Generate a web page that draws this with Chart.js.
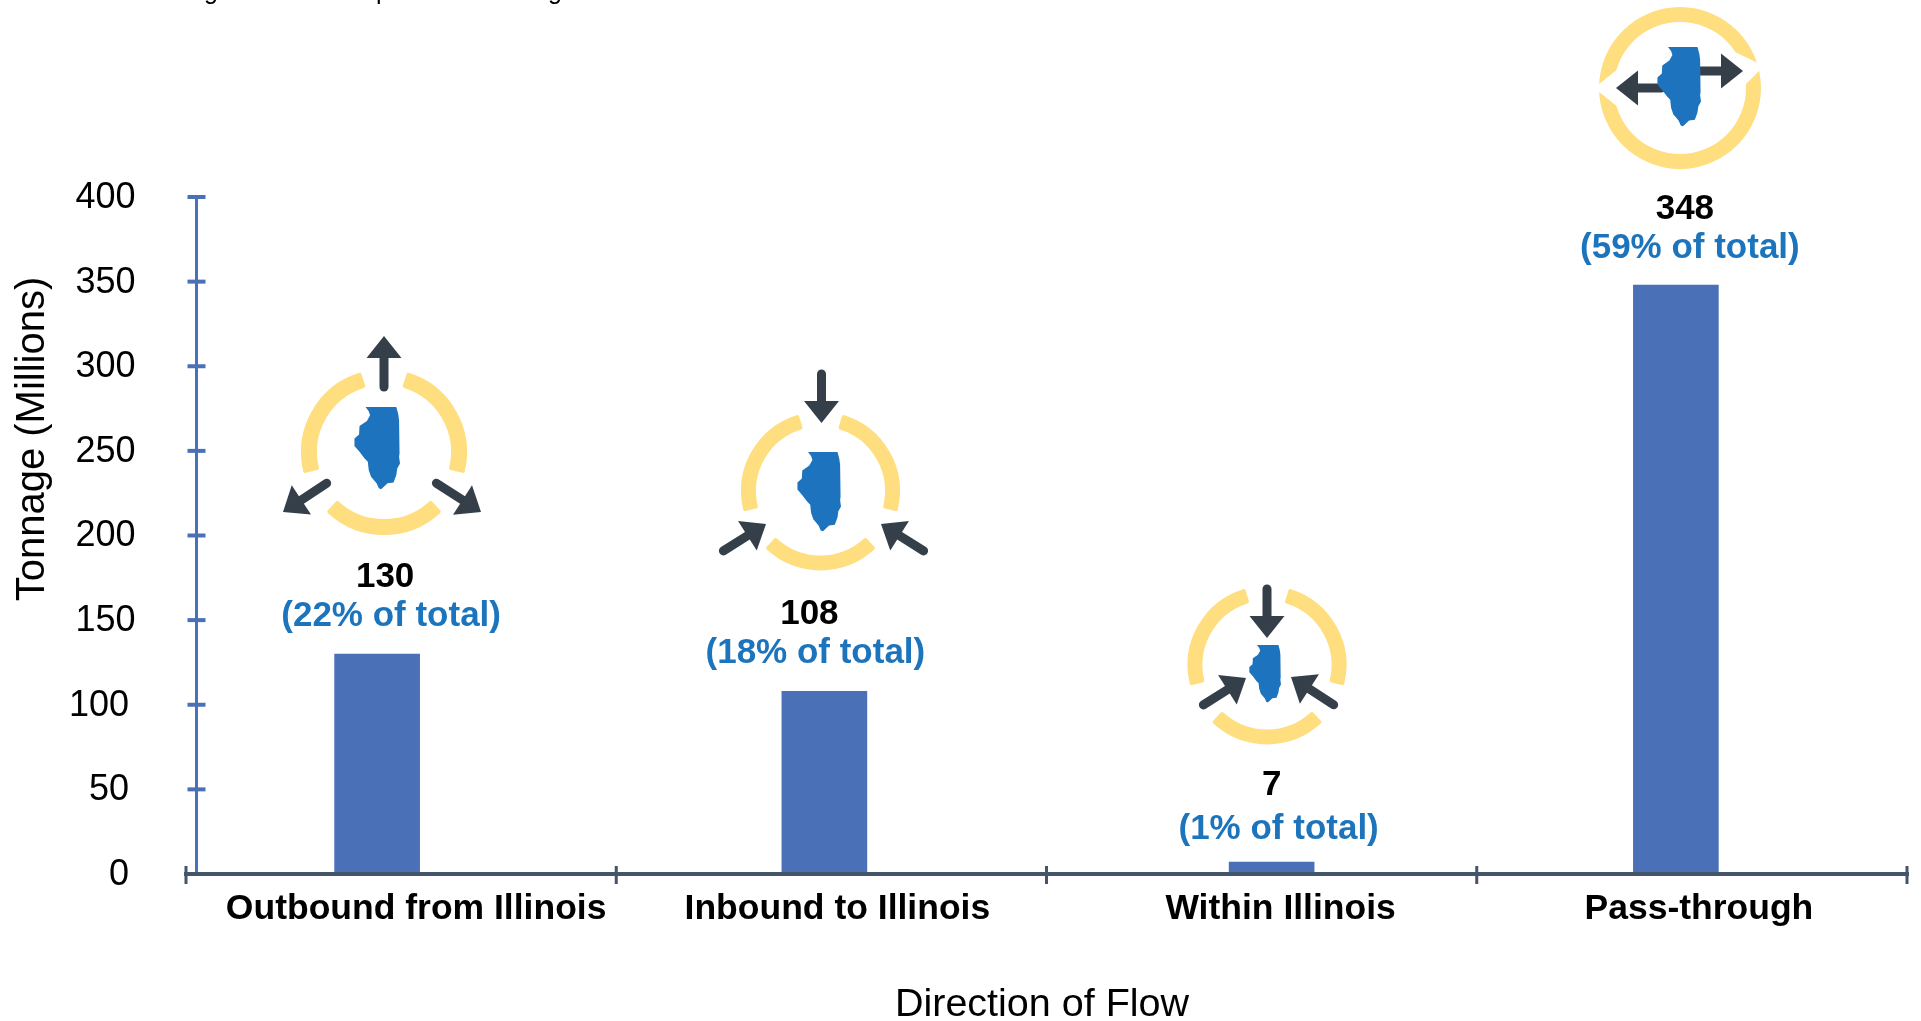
<!DOCTYPE html>
<html lang="en">
<head>
<meta charset="UTF-8">
<title>Tonnage by Direction of Flow</title>
<script src="https://cdn.jsdelivr.net/npm/chart.js"></script>
<style>
    body { margin: 0; background: #fff; }
    canvas { display: block; }
</style>
</head>
<body>
<canvas id="flowChart" width="1921" height="1021"></canvas>
<script>
// chart data
const categories = ['Outbound from Illinois', 'Inbound to Illinois', 'Within Illinois', 'Pass-through'];
const tonnage = [130, 108, 7, 348];
const shareLabels = ['(22% of total)', '(18% of total)', '(1% of total)', '(59% of total)'];
const yTicks = [0, 50, 100, 150, 200, 250, 300, 350, 400];

const FONT = '"Liberation Sans", Arial, sans-serif';
const BAR_COLOR = '#4a70b7', X_AXIS_COLOR = '#44546a', TEXT_BLUE = '#1c75bc';
const RING_COLOR = '#ffde80', ARROW_COLOR = '#353f4a', STATE_COLOR = '#1e73be';

// the bars and labels in the original sit off the category centres
const barShift = [-24, -7, 10, -16];
const categoryLabelShift = [15, 6, 19, 7];
const valueLabelShift = [8, -15, 0, 9];
const shareLabelShift = [14, -9, 7, 14];
const valueLift = [77, 77, 77, 76];
const shareLift = [38, 38, 33, 37];

// Illinois outline, unit box 0..1
const illinois = [[.25,0],[.92,0],[.96,.08],[.98,.16],[.99,.56],[.98,.60],[1,.68],[.94,.74],[.92,.82],[.86,.91],[.73,.92],[.59,.99],[.54,.98],[.49,.92],[.37,.84],[.32,.76],[.30,.66],[.23,.62],[.12,.54],[.01,.47],[.01,.38],[.11,.33],[.12,.23],[.28,.17],[.35,.10],[.32,.05]];

const threeGaps = [[-74, 15], [46, 134], [165, 254]];
// ring centre/radius, arrows as [tail, tip], state box as [x, y, w, h]
const icons = [
    { cx: 384, cy: 452, r: 75, lw: 16, arcs: threeGaps, state: [354, 407, 46, 83],
      arrows: [[[384, 391], [384, 336]], [[330, 481], [283, 512]], [[433, 481], [481, 512]]] },
    { cx: 820.5, cy: 491, r: 72, lw: 15, arcs: threeGaps, state: [797, 452, 44, 80],
      arrows: [[[821.5, 370], [821.5, 423]], [[720, 553], [766, 524]], [[927, 553], [881, 524]]] },
    { cx: 1267, cy: 665, r: 72, lw: 15, arcs: threeGaps, state: [1249, 645, 32, 58],
      arrows: [[[1267, 585], [1267, 638]], [[1200, 707], [1246, 678]], [[1337, 707], [1291, 677]]] },
    { cx: 1680, cy: 88, r: 73.5, lw: 15, arcs: [[0, 360]], state: [1657, 47, 44, 80],
      cuts: [[[1594, 88], [1618, 69], [1618, 107]], [[1764, 66], [1735, 52], [1745, 85]]],
      arrows: [[[1665, 88], [1616, 88]], [[1695, 71], [1743, 71]]] }
];

function drawRing(ctx, icon) {
    ctx.fillStyle = RING_COLOR;
    ctx.strokeStyle = RING_COLOR;
    ctx.lineWidth = 4;
    ctx.lineJoin = 'round';
    icon.arcs.forEach(([a, b]) => {
        const full = b - a === 360;
        const pad = full ? 0 : 1.5;
        const start = (a + pad) * Math.PI / 180, end = (b - pad) * Math.PI / 180;
        ctx.beginPath();
        ctx.arc(icon.cx, icon.cy, icon.r + icon.lw / 2 - (full ? 0 : 2), start, end);
        if (full) ctx.moveTo(icon.cx + icon.r - icon.lw / 2, icon.cy);
        ctx.arc(icon.cx, icon.cy, icon.r - icon.lw / 2 + (full ? 0 : 2), end, start, true);
        ctx.closePath();
        if (full) {
            ctx.fill('evenodd');
        } else {
            ctx.fill();
            ctx.stroke();
        }
    });
    // white notches where the pass-through arrows leave the ring
    (icon.cuts || []).forEach(pts => {
        ctx.fillStyle = '#fff';
        ctx.beginPath();
        pts.forEach((p, i) => i ? ctx.lineTo(p[0], p[1]) : ctx.moveTo(p[0], p[1]));
        ctx.closePath();
        ctx.fill();
    });
}

function drawArrow(ctx, tail, tip) {
    const headLen = 22, headHalf = 17.5;
    const len = Math.hypot(tip[0] - tail[0], tip[1] - tail[1]);
    ctx.save();
    ctx.translate(tip[0], tip[1]);
    ctx.rotate(Math.atan2(tip[1] - tail[1], tip[0] - tail[0]));
    ctx.strokeStyle = ARROW_COLOR;
    ctx.fillStyle = ARROW_COLOR;
    ctx.lineWidth = 9;
    ctx.lineCap = 'round';
    ctx.beginPath();
    ctx.moveTo(-headLen, 0);
    ctx.lineTo(-len + 4, 0);
    ctx.stroke();
    ctx.beginPath();
    ctx.moveTo(0, 0);
    ctx.lineTo(-headLen, -headHalf);
    ctx.lineTo(-headLen, headHalf);
    ctx.closePath();
    ctx.fill();
    ctx.restore();
}

function drawState(ctx, box) {
    ctx.fillStyle = STATE_COLOR;
    ctx.beginPath();
    illinois.forEach((p, i) => {
        const x = box[0] + p[0] * box[2], y = box[1] + p[1] * box[3];
        i ? ctx.lineTo(x, y) : ctx.moveTo(x, y);
    });
    ctx.closePath();
    ctx.fill();
}

// moves the bars off the category centres
const shiftBars = {
    id: 'shiftBars',
    afterDatasetsUpdate(chart) {
        chart.getDatasetMeta(0).data.forEach((bar, i) => { bar.x += barShift[i]; });
    }
};

// axes, icons and all the text around the bars
const decorations = {
    id: 'decorations',
    afterDraw(chart) {
        const { ctx, scales: { x, y }, chartArea } = chart;
        const axisX = chartArea.left + 10.5;
        ctx.save();

        // y axis runs a little inside the left end of the x axis
        ctx.strokeStyle = BAR_COLOR;
        ctx.lineWidth = 3;
        ctx.beginPath();
        ctx.moveTo(axisX, y.getPixelForValue(400));
        ctx.lineTo(axisX, y.getPixelForValue(0));
        ctx.stroke();
        ctx.lineWidth = 4;
        yTicks.forEach(v => {
            const py = y.getPixelForValue(v);
            ctx.beginPath();
            ctx.moveTo(axisX - 9, py);
            ctx.lineTo(axisX + 9, py);
            ctx.stroke();
        });

        // x axis over the bars
        ctx.strokeStyle = X_AXIS_COLOR;
        const py0 = y.getPixelForValue(0);
        ctx.beginPath();
        ctx.moveTo(chartArea.left - 2, py0);
        ctx.lineTo(chartArea.right + 2, py0);
        ctx.stroke();
        ctx.lineWidth = 3;
        for (let i = 0; i <= categories.length; i++) {
            const px = chartArea.left + i * chartArea.width / categories.length;
            ctx.beginPath();
            ctx.moveTo(px, py0 - 8);
            ctx.lineTo(px, py0 + 10);
            ctx.stroke();
        }

        // y tick labels: the lower three stand slightly further left
        ctx.fillStyle = '#000';
        ctx.textBaseline = 'middle';
        ctx.textAlign = 'right';
        ctx.font = '36px ' + FONT;
        yTicks.forEach(v => ctx.fillText(String(v), v <= 100 ? 129 : 135.5, y.getPixelForValue(v) + 1));

        // axis titles
        ctx.textAlign = 'center';
        ctx.font = '39.5px ' + FONT;
        ctx.fillText('Direction of Flow', 1042, 1005);
        ctx.save();
        ctx.translate(33, 439);
        ctx.rotate(-Math.PI / 2);
        ctx.font = '40px ' + FONT;
        ctx.fillText('Tonnage (Millions)', 0, 0);
        ctx.restore();

        // category labels
        ctx.font = 'bold 35.5px ' + FONT;
        categories.forEach((c, i) => ctx.fillText(c, x.getPixelForValue(i) + categoryLabelShift[i], 909));

        // value and share labels above each bar
        chart.getDatasetMeta(0).data.forEach((bar, i) => {
            ctx.font = 'bold 35px ' + FONT;
            ctx.fillStyle = '#000';
            ctx.fillText(String(tonnage[i]), bar.x + valueLabelShift[i], bar.y - valueLift[i]);
            ctx.fillStyle = TEXT_BLUE;
            ctx.fillText(shareLabels[i], bar.x + shareLabelShift[i], bar.y - shareLift[i]);
        });

        icons.forEach(icon => {
            drawRing(ctx, icon);
            icon.arrows.forEach(a => drawArrow(ctx, a[0], a[1]));
            drawState(ctx, icon.state);
        });

        // last line of a caption, cut off by the top edge of the picture
        ctx.fillStyle = '#000';
        ctx.font = '25px ' + FONT;
        ctx.textBaseline = 'alphabetic';
        [['g', 211], ['p', 383], ['g', 555]].forEach(([t, px]) => ctx.fillText(t, px, -1));
        ctx.restore();
    }
};

new Chart(document.getElementById('flowChart'), {
    type: 'bar',
    data: {
        labels: categories,
        datasets: [{
            data: tonnage,
            backgroundColor: BAR_COLOR,
            barThickness: 85
        }]
    },
    options: {
        responsive: false,
        animation: false,
        layout: { padding: { top: 197, right: 14 } },
        plugins: { legend: { display: false }, tooltip: { enabled: false } },
        scales: {
            x: {
                grid: { display: false },
                border: { display: false },
                ticks: { display: false },
                afterFit(scale) { scale.height = 147; }
            },
            y: {
                min: 0,
                max: 400,
                grid: { display: false },
                border: { display: false },
                ticks: { display: false },
                afterFit(scale) { scale.width = 186; }
            }
        }
    },
    plugins: [shiftBars, decorations]
});
</script>
</body>
</html>
